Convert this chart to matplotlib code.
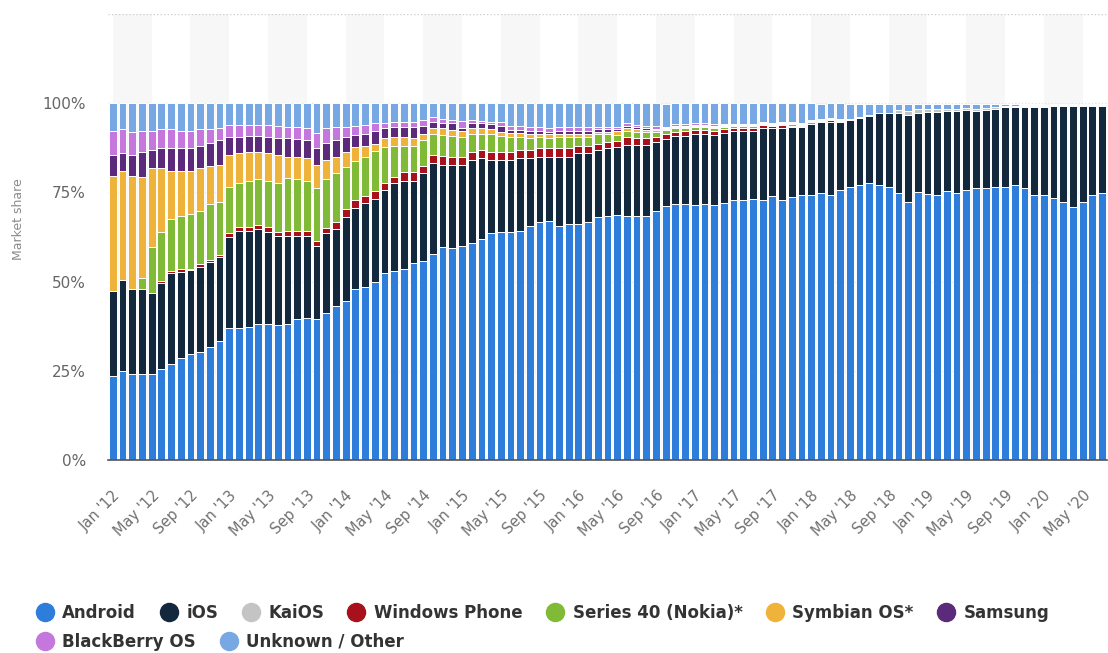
import numpy as np
import matplotlib
matplotlib.use('Agg')
import matplotlib.pyplot as plt
from matplotlib.lines import Line2D

plt.rcParams['font.family'] = ['DejaVu Sans']

# Monthly market share (%), Jan 2012 - Jul 2020
MONTHS = ['Jan', 'Feb', 'Mar', 'Apr', 'May', 'Jun', 'Jul', 'Aug', 'Sep', 'Oct', 'Nov', 'Dec']
YEARS = list(range(2012, 2021))
N_BARS = 103

android = [23.5, 24.9, 24.1, 24.1, 24.1, 25.4, 26.8, 28.6, 29.6, 30.3, 31.6, 33.3,
           37.1, 37.1, 37.4, 38.0, 38.0, 37.7, 38.0, 39.6, 39.9, 39.6, 41.3, 43.2,
           44.6, 47.9, 48.4, 49.9, 52.3, 53.1, 53.5, 55.1, 55.9, 57.7, 59.6, 59.3,
           59.9, 60.8, 62.0, 63.6, 63.8, 63.8, 64.3, 65.7, 66.7, 67.1, 65.7, 66.2,
           66.2, 66.7, 68.1, 68.5, 68.6, 68.3, 68.5, 68.3, 69.7, 71.2, 71.8, 71.8,
           71.5, 71.8, 71.5, 72.0, 72.8, 72.8, 73.2, 72.8, 74.0, 72.8, 73.7, 74.2,
           74.4, 74.8, 74.4, 75.6, 76.5, 77.0, 77.7, 77.0, 76.5, 74.8, 72.3, 75.1,
           74.6, 74.4, 75.3, 74.9, 75.6, 76.1, 76.1, 76.5, 76.5, 77.0, 76.1, 74.4,
           74.4, 73.4, 72.3, 70.9, 72.3, 74.4, 74.8]
ios = [23.9, 25.5, 23.8, 23.8, 22.8, 24.1, 25.5, 24.2, 23.6, 23.9, 23.8, 23.5,
       25.3, 27.2, 26.9, 26.6, 26.0, 25.2, 24.9, 23.3, 23.0, 20.3, 22.3, 21.6,
       23.5, 22.7, 23.7, 23.3, 23.3, 24.4, 24.6, 23.0, 24.4, 25.4, 23.2, 23.5,
       22.7, 23.2, 22.5, 20.4, 20.2, 20.2, 20.2, 18.8, 18.3, 17.9, 19.3, 18.8,
       19.7, 19.2, 18.7, 18.8, 19.1, 20.0, 19.8, 20.0, 19.3, 18.7, 19.0, 19.0,
       19.8, 19.5, 19.6, 19.7, 19.4, 19.4, 19.0, 20.2, 19.0, 20.2, 19.7, 19.2,
       19.7, 20.0, 20.4, 19.2, 18.8, 18.8, 18.8, 20.2, 20.7, 22.4, 24.4, 22.1,
       22.9, 23.1, 22.4, 23.0, 22.5, 21.8, 22.0, 21.9, 22.4, 21.9, 22.8, 24.5,
       24.5, 25.9, 27.0, 28.4, 27.0, 24.9, 24.5]
kaios = [0] * 81 + [0.8, 1.0, 1.2,
         1.0, 1.0, 0.8, 0.6, 0.6, 0.6, 0.5, 0.4, 0.3, 0.3, 0.3, 0.3,
         0.4, 0.2, 0.2, 0.2, 0.2, 0.2, 0.2]
windows_phone = [0, 0, 0, 0, 0, 0.7, 0.6, 0.7, 0.4, 0.7, 0.6, 0.7,
                 1.3, 0.9, 1.1, 1.3, 1.2, 1.1, 1.4, 1.4, 1.4, 1.6, 1.4, 1.9,
                 2.3, 2.2, 1.9, 2.1, 1.9, 1.8, 2.7, 2.7, 2.1, 2.5, 2.4, 2.2,
                 2.4, 2.4, 2.3, 2.4, 2.4, 2.4, 2.3, 2.3, 2.3, 2.3, 2.3, 2.3,
                 2.2, 2.2, 1.7, 1.9, 1.6, 2.3, 2.0, 2.0, 1.6, 1.4, 1.2, 1.4,
                 1.2, 1.2, 1.1, 1.0, 0.8, 0.8, 0.8, 0.9, 0.6, 0.9, 0.3, 0.3,
                 0.2, 0.2, 0.5, 0.2, 0.2, 0.1, 0.1] + [0] * 24
series40 = [0, 0, 0, 3.1, 12.7, 13.8, 14.7, 15.0, 15.4, 15.0, 15.8, 14.8,
            12.8, 12.5, 12.7, 12.8, 12.9, 13.7, 14.8, 14.4, 13.8, 14.7, 13.7, 13.6,
            11.8, 11.0, 11.0, 11.3, 10.3, 8.8, 7.3, 7.3, 7.3, 5.7, 5.9, 5.8,
            5.6, 5.1, 4.7, 4.9, 4.4, 4.2, 3.8, 3.3, 3.3, 2.8, 3.3, 3.3,
            2.5, 2.5, 2.8, 2.1, 1.9, 1.6, 1.7, 1.7, 1.4, 1.2, 1.1, 0.9,
            0.9, 0.9, 0.9, 0.7, 0.5, 0.5, 0.5, 0.3, 0.3, 0.3, 0.6, 0.3,
            0.5, 0.1, 0.1, 0.1, 0.1, 0.1] + [0] * 25
symbian = [32.2, 30.5, 31.7, 28.3, 22.1, 17.7, 13.3, 12.4, 11.9, 11.8, 10.6, 10.5,
           9.1, 8.2, 8.3, 7.7, 7.8, 7.9, 5.9, 6.3, 6.4, 6.6, 5.3, 4.7,
           4.2, 4.0, 3.1, 1.9, 2.3, 2.5, 2.5, 2.2, 1.8, 1.7, 1.9, 1.7,
           1.6, 1.5, 1.5, 1.6, 1.2, 1.1, 1.1, 1.2, 0.7, 1.2, 0.9, 0.9,
           0.9, 0.9, 0.7, 0.7, 1.1, 0.8, 0.8, 0.6, 0.5, 0.3, 0.3, 0.3,
           0.3, 0.3, 0.3, 0.3, 0.2, 0.2, 0.2, 0.2, 0.2, 0.1, 0.1, 0.1,
           0.1, 0.1, 0.1, 0.1] + [0] * 27
samsung = [5.8, 5.0, 5.8, 7.1, 5.1, 5.6, 6.4, 6.4, 6.4, 6.4, 6.3, 6.9,
           5.0, 4.7, 4.4, 4.4, 4.7, 4.7, 5.1, 4.9, 5.2, 4.7, 4.9, 4.7,
           4.2, 3.3, 3.4, 3.7, 2.9, 2.8, 2.6, 2.9, 2.2, 1.8, 1.4, 1.9,
           0.9, 1.4, 1.4, 1.3, 1.7, 0.8, 0.8, 0.9, 0.9, 0.7, 0.7, 0.7,
           0.7, 0.7, 0.7, 0.7, 0.5, 0.5, 0.5, 0.4, 0.4, 0.2, 0.3, 0.3,
           0.3, 0.3, 0.3, 0.2, 0.2, 0.2, 0.2, 0.1, 0.1, 0.1, 0.1, 0.1,
           0.1, 0.1, 0.1, 0.1] + [0] * 27
blackberry = [6.8, 6.8, 6.6, 5.8, 5.4, 5.4, 5.4, 4.9, 4.9, 4.6, 4.0, 3.4,
              3.3, 3.3, 3.1, 3.1, 3.3, 3.4, 3.3, 3.5, 3.4, 4.2, 4.1, 3.7,
              2.8, 2.6, 2.4, 2.2, 1.4, 1.4, 1.6, 1.6, 1.6, 1.2, 1.2, 0.9,
              1.9, 0.9, 0.7, 0.6, 0.9, 1.2, 1.2, 1.2, 1.2, 1.0, 1.0, 1.0,
              1.0, 1.0, 0.7, 0.7, 0.4, 0.9, 0.7, 0.6, 0.8, 0.4, 0.4, 0.4,
              0.4, 0.4, 0.4, 0.4, 0.4, 0.4, 0.4, 0.3, 0.3, 0.3, 0.3, 0.3,
              0.2, 0.2, 0.2, 0.2] + [0] * 27
unknown = [7.8, 7.3, 8.0, 7.8, 7.8, 7.3, 7.3, 7.8, 7.8, 7.3, 7.3, 6.9,
           6.1, 6.1, 6.1, 6.1, 6.1, 6.3, 6.6, 6.6, 6.9, 8.3, 7.0, 6.6,
           6.6, 6.3, 6.1, 5.6, 5.6, 5.2, 5.2, 5.2, 4.7, 4.0, 4.4, 4.7,
           5.0, 4.7, 4.9, 5.2, 5.4, 6.3, 6.3, 6.6, 6.6, 7.0, 6.8, 6.8,
           6.8, 6.8, 6.6, 6.6, 6.8, 5.6, 6.0, 6.4, 6.3, 6.3, 5.9, 5.9,
           5.6, 5.6, 5.9, 5.7, 5.7, 5.7, 5.7, 5.2, 5.5, 5.3, 5.2, 5.5,
           4.8, 4.3, 4.2, 4.5, 4.3, 3.8, 3.3, 2.6, 2.5, 1.8, 2.0, 1.4,
           1.3, 1.3, 1.3, 1.2, 1.1, 1.2, 1.1, 0.9, 0.6, 0.5, 0.4, 0.4,
           0.3, 0.2, 0.2, 0.2, 0.2, 0.2, 0.2]

SERIES = [
    ('Android', android, '#2f7ddb'),
    ('iOS', ios, '#14283d'),
    ('KaiOS', kaios, '#c4c4c4'),
    ('Windows Phone', windows_phone, '#a8101c'),
    ('Series 40 (Nokia)*', series40, '#80ba37'),
    ('Symbian OS*', symbian, '#efb33b'),
    ('Samsung', samsung, '#5b2a7a'),
    ('BlackBerry OS', blackberry, '#c577dd'),
    ('Unknown / Other', unknown, '#78a8e4'),
]
for name, vals, _ in SERIES:
    assert len(vals) == N_BARS, (name, len(vals))

labels = [f"{MONTHS[i % 12]} '{str(YEARS[i // 12])[2:]}" for i in range(N_BARS)]
x = np.arange(N_BARS)

fig = plt.figure(figsize=(11.08, 6.53), dpi=100)
ax = fig.add_axes([0.0975, 0.2956, 0.9015, 0.683])

# alternating background bands, one per tick interval
for start in range(0, N_BARS, 8):
    ax.axvspan(start, min(start + 4, N_BARS - 0.5), color='#f7f7f7', lw=0, zorder=0)

for yv in (25, 50, 75, 100):
    ax.axhline(yv, color='#e2e2e2', lw=0.8, ls=(0, (1, 2)), zorder=0.5)
ax.axhline(125, color='#cfcfcf', lw=1.0, ls=(0, (1, 1.5)), zorder=0.5)

bottom = np.zeros(N_BARS)
for name, vals, col in SERIES:
    vals = np.array(vals, dtype=float)
    ax.bar(x, vals, width=0.8, bottom=bottom, color=col, edgecolor='white',
           linewidth=0.7, zorder=2)
    bottom += vals

ax.set_xlim(-0.5, N_BARS - 0.5)
ax.set_ylim(0, 125)
ax.set_yticks([0, 25, 50, 75, 100])
ax.set_yticklabels(['0%', '25%', '50%', '75%', '100%'])
ax.set_xticks(x[::4])
ax.set_xticklabels(labels[::4], rotation=45, ha='right', va='top',
                   rotation_mode='anchor')
ax.tick_params(axis='y', length=0, pad=16, labelsize=11, labelcolor='#666666')
ax.tick_params(axis='x', length=0, pad=20, labelsize=10.5, labelcolor='#707070')
for s in ('top', 'right', 'left'):
    ax.spines[s].set_visible(False)
ax.spines['bottom'].set_color('#555555')
ax.spines['bottom'].set_linewidth(1.2)
ax.spines['bottom'].set_zorder(3)

fig.text(0.017, 0.665, 'Market share', rotation=90, ha='center', va='center',
         fontsize=9, color='#8a8a8a')

def handles(items):
    return [Line2D([], [], marker='o', ls='none', markersize=13,
                   markerfacecolor=c, markeredgecolor=c) for _, _, c in items]

row1 = SERIES[:7]
row2 = SERIES[7:]
leg_kw = dict(frameon=False, loc='center left', handletextpad=0.55,
              columnspacing=1.45, handlelength=1.0, borderaxespad=0,
              prop={'size': 12, 'weight': 'bold'}, labelcolor='#333333')
fig.legend(handles(row1), [s[0] for s in row1], ncol=7,
           bbox_to_anchor=(0.027, 0.061), **leg_kw)
fig.legend(handles(row2), [s[0] for s in row2], ncol=2,
           bbox_to_anchor=(0.027, 0.017), **leg_kw)

fig.savefig('out.png', dpi=100)
